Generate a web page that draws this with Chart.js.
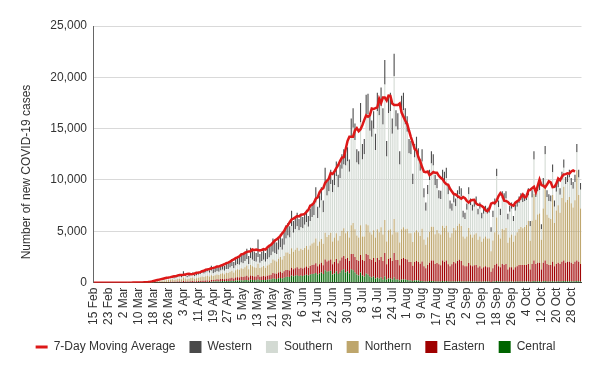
<!DOCTYPE html>
<html><head><meta charset="utf-8">
<script src="https://cdn.jsdelivr.net/npm/chart.js@4.4.1/dist/chart.umd.min.js"></script>
<style>html,body{margin:0;padding:0;background:#fff;}#wrap{width:600px;height:372px;}</style>
</head><body><div id="wrap"><canvas id="c" width="600" height="372"></canvas></div>
<script>
const yTitle = 'Number of new COVID-19 cases';
const tickLabels = ['15 Feb','23 Feb','2 Mar','10 Mar','18 Mar','26 Mar','3 Apr','11 Apr','19 Apr','27 Apr','5 May','13 May','21 May','29 May','6 Jun','14 Jun','22 Jun','30 Jun','8 Jul','16 Jul','24 Jul','1 Aug','9 Aug','17 Aug','25 Aug','2 Sep','10 Sep','18 Sep','26 Sep','4 Oct','12 Oct','20 Oct','28 Oct'];
const monthNames = ['Jan','Feb','Mar','Apr','May','Jun','Jul','Aug','Sep','Oct','Nov','Dec'];

const central = [
0,0,0,0,0,0,0,0,
0,0,0,0,0,0,0,0,
0,0,0,0,0,0,0,0,
0,0,1,1,2,3,4,5,
8,10,12,15,18,20,22,24,
25,30,32,26,30,35,40,32,
50,40,35,40,45,50,40,45,
55,60,70,65,75,80,70,90,
100,115,130,120,140,150,130,160,
150,170,190,160,200,210,200,230,
220,250,270,210,280,260,250,240,
300,230,250,270,240,280,300,330,
400,380,360,420,450,400,480,550,
580,560,700,620,680,720,650,700,
650,720,780,690,800,850,870,950,
800,900,1000,850,1200,1050,1100,1150,
800,900,1100,850,1000,1200,1300,1000,
1100,900,1300,1200,1000,800,700,1000,
700,600,900,800,600,500,600,400,
500,400,500,300,600,300,400,400,
300,500,300,300,200,300,300,300,
250,200,200,150,200,200,200,150,
150,100,100,120,150,150,150,120,
120,100,100,150,120,150,100,100,
100,120,100,120,130,120,100,100,
100,120,100,100,100,120,80,100,
80,100,100,100,100,60,100,120,
150,100,100,120,120,120,80,100,
100,80,100,100,120,120,110,110,
110,120,80,120,150,120,130,130,
80,130,150,120,120,110,140,100,
120,130,120,140,150,130,140,140,
130,120,130,160,140,120];

const eastern = [
0,0,0,0,0,0,0,0,
0,0,0,0,0,0,0,0,
0,0,0,0,0,0,0,1,
1,1,2,3,4,6,8,10,
16,20,25,30,35,40,43,47,
50,58,64,52,61,70,76,64,
100,80,65,75,90,100,80,85,
100,110,125,115,130,140,125,160,
155,175,190,180,205,215,200,230,
230,250,280,240,290,310,300,340,
320,360,400,310,410,380,360,350,
450,340,360,380,350,400,420,450,
550,520,500,560,600,550,620,680,
650,620,760,680,720,780,700,740,
720,760,800,730,820,860,880,950,
800,900,950,850,1050,1000,1050,1100,
1000,1100,1200,1050,1150,1250,1300,1300,
1300,1200,1500,1600,1500,1400,1400,1700,
1500,1500,1900,1900,1700,1700,1800,1600,
1900,1800,2000,1800,2300,1500,1900,2000,
1800,2400,1900,1900,1500,2000,2100,2000,
2000,1800,1800,1500,1800,1900,1800,1700,
1900,1500,1300,1600,1800,2000,2000,1700,
1800,1700,1600,2000,1900,2000,1700,1500,
1700,1900,1800,2000,2100,2000,1600,1500,
1500,1800,1600,1500,1600,1600,1400,1500,
1300,1400,1500,1400,1400,1000,1300,1600,
1700,1500,1400,1700,1600,1700,1200,1400,
1400,1200,1400,1500,1600,1600,1600,1600,
1600,1700,1200,1700,2000,1700,1800,1800,
1200,1800,2000,1700,1600,1600,1900,1500,
1700,1800,1700,1900,2000,1800,1900,1900,
1800,1700,1900,2000,1900,1700];

const northern = [
0,0,0,0,0,0,0,0,
0,0,0,0,0,0,0,0,
0,0,1,0,1,2,1,2,
3,5,7,10,14,20,27,35,
56,70,88,105,122,136,150,165,
175,200,225,180,215,245,265,225,
350,290,230,270,320,340,270,300,
320,350,400,370,410,450,400,480,
390,435,480,450,510,540,495,570,
570,630,690,600,720,780,750,840,
810,900,990,780,1020,960,900,870,
1100,850,900,960,870,990,1050,1140,
1300,1250,1200,1350,1450,1300,1500,1700,
1700,1600,1900,1700,1800,1900,1750,1850,
1800,1900,2000,1800,2000,2100,2150,2400,
2000,2200,2300,2100,2600,2400,2500,2600,
2200,2400,2500,2200,2400,2600,2700,2500,
2600,2300,2800,3000,2700,2400,2300,2900,
2300,2400,2900,2900,2600,2500,2700,2400,
2800,2700,2900,2600,3200,2200,2800,2800,
2600,3300,2700,2700,2200,2900,3000,2900,
3000,2800,2800,2300,2900,3000,2900,2700,
3200,2600,2300,2700,3000,3300,3300,2900,
3200,3000,3000,3400,3300,3400,3100,2800,
3000,3300,3200,3400,3500,3400,2800,2700,
2900,3400,3000,2800,3000,3100,2700,2900,
2600,2800,2900,2800,2800,2000,2700,3200,
4500,3100,2800,3400,3400,3500,2600,2900,
3200,2700,3100,3300,3500,3700,3600,3700,
3900,4200,2800,4200,6500,4300,4700,4800,
2900,5300,7500,4800,4600,4500,6500,4200,
5200,5600,5000,6200,7200,5900,6000,6300,
5800,5500,6000,8800,6500,5400];

const southern = [
0,0,0,0,0,0,0,0,
0,0,0,0,0,0,0,0,
0,0,0,0,1,1,1,1,
3,4,5,8,11,16,22,30,
48,60,75,90,105,116,129,140,
150,176,191,158,182,210,227,191,
250,240,190,225,265,290,230,260,
285,320,365,330,385,410,365,420,
265,290,320,300,335,355,330,370,
380,420,450,400,470,520,500,550,
540,590,650,520,670,640,590,570,
650,530,590,630,570,640,680,740,
750,750,740,870,950,950,1100,1370,
1670,1620,2140,1850,2000,2100,2000,2110,
2130,2270,2320,2230,2380,2590,2700,3500,
2700,3300,3750,3050,4750,4050,4250,4750,
4800,5100,5600,5200,5650,6050,6200,6600,
6800,6400,8600,9300,8700,7100,7100,10000,
7500,8000,10700,10800,9900,9500,9900,8500,
11500,11400,11800,10700,13200,8300,11400,11500,
9800,13900,10300,10000,7600,11300,11400,10200,
9450,7800,7700,5650,7300,7800,7000,6350,
6550,4100,3300,4180,5050,6150,5950,4780,
4080,3400,3450,4450,4480,4650,3700,2800,
2200,2480,2350,2680,2870,2880,1850,1900,
2600,3280,2850,2600,2700,2930,2470,2700,
2270,2400,2400,2400,2500,1890,2300,2630,
4050,2650,2300,2980,2930,2880,2270,2500,
2500,2020,2400,2500,2530,2630,2540,2540,
2440,2480,1420,2280,3350,2230,2270,2270,
1020,2270,2850,1730,1630,1690,2210,1600,
1830,1770,1730,1810,1850,1770,1760,1910,
1770,1830,1770,1740,1710,1830];

const western = [
0,0,0,0,0,0,0,0,
0,0,0,0,0,0,0,0,
0,0,0,0,0,0,0,1,
1,2,3,4,7,10,14,20,
32,40,50,60,70,78,86,94,
100,116,128,104,122,140,152,128,
350,170,130,150,180,200,160,170,
190,210,240,220,250,270,240,500,
390,435,480,450,510,540,495,570,
570,630,690,600,720,780,750,840,
810,900,990,780,1020,960,900,870,
1700,850,900,960,870,990,1050,1140,
1300,1200,1100,1200,1250,1100,1200,1300,
1200,1100,1500,1150,1200,1300,1100,1200,
1100,1150,1200,1050,1200,1300,1300,1500,
1100,1200,1300,1150,1600,1300,1300,1400,
1200,1300,1400,1200,1300,1400,1500,1400,
1400,1200,1800,1900,1600,1300,1300,1900,
1500,1500,1900,2000,1700,1600,1700,1600,
1800,1700,1800,1600,2400,1500,1700,1800,
1500,2200,1600,1600,1300,1700,1700,1600,
1500,1400,1300,1000,1300,1300,1200,1100,
1200,900,800,900,1000,1200,1100,1000,
900,800,800,1000,1000,1000,900,800,
700,800,750,800,800,800,650,600,
600,700,650,600,600,650,550,600,
550,600,600,600,600,450,600,650,
700,650,600,700,650,700,550,600,
600,500,600,600,650,650,650,650,
650,700,500,700,800,650,700,700,
500,700,800,650,650,600,750,600,
650,700,650,750,800,700,700,750,
700,650,700,800,750,650];

const movingAvg = [
0,0,0,0,0,0,0,0,
0,0,0,0,0,0,0,0,
0,0,0,1,2,3,5,7,
11,16,23,33,46,67,93,125,
163,205,250,297,341,384,431,480,
504,536,574,616,636,710,736,754,
776,804,836,856,821,840,897,960,
989,1027,1109,1157,1257,1293,1329,1400,
1436,1486,1571,1571,1657,1721,1793,1907,
1950,2036,2171,2257,2386,2471,2571,2757,
2786,2900,3000,3029,3057,3229,3157,3214,
3186,3143,3186,3271,3214,3429,3586,3686,
3900,4100,4214,4371,4557,4800,5029,5400,
5586,5886,6157,6243,6357,6486,6457,6614,
6629,6686,6900,7086,7500,7586,7786,8186,
8300,8800,9071,9200,9714,9929,10143,10686,
10586,10829,11157,11443,11843,12186,12214,13000,
13786,14214,14214,14214,14829,15043,14757,14943,
15357,15857,16286,16171,16314,16957,16914,17000,
17071,17914,17500,18029,18029,17743,18214,18186,
17443,17300,17300,17300,17443,16571,16171,15786,
15471,14800,14186,13629,13029,12886,12229,11829,
11257,10800,10757,10829,10471,10600,10771,10693,
10693,10407,10221,10079,9779,9593,9543,9143,
8886,8629,8586,8443,8314,8186,8343,8229,
7971,7800,8000,8057,8071,7714,7586,7571,
7471,7329,7071,6957,7157,7700,7771,7757,
7971,8443,8714,8500,7986,7957,7857,7671,
7571,7500,7786,7929,8043,8357,8586,8300,
8386,8971,9043,9186,9329,8829,9429,10043,
9500,9443,9286,9543,9871,9771,9300,9329,
9643,10143,9971,10329,10543,10571,10657,10614,
10829,10929,10814,null,null,null];

const categories = [];
for (let i = 0; i < central.length; i++) {
  const d = new Date(2020, 1, 15 + i);
  categories.push(d.getDate() + ' ' + monthNames[d.getMonth()]);
}

const FONT = '"Liberation Sans", Arial, Helvetica, sans-serif';
Chart.defaults.font.family = FONT;
Chart.defaults.font.size = 12;
Chart.defaults.color = '#333';

const yTitlePlugin = {
  id: 'yTitlePlugin',
  afterLayout(chart) {
    if (chart.legend) { chart.legend.top -= 5; chart.legend.bottom -= 5; }
  },
  afterDraw(chart) {
    const ctx = chart.ctx;
    ctx.save();
    ctx.translate(27, 172);
    ctx.rotate(-Math.PI / 2);
    ctx.font = '12px ' + FONT;
    ctx.fillStyle = '#333';
    ctx.textAlign = 'center';
    ctx.textBaseline = 'middle';
    ctx.fillText(yTitle, 0, 0);
    ctx.restore();
  }
};

new Chart(document.getElementById('c'), {
  type: 'bar',
  data: {
    labels: categories,
    datasets: [
      {type: 'line', label: '7-Day Moving Average', data: movingAvg, borderColor: '#dd1818', backgroundColor: '#dd1818', borderWidth: 2.5, pointRadius: 0, fill: false, tension: 0, order: 0, stack: 'ma'},
      {label: 'Western', data: western, backgroundColor: '#4a4a4a', order: 5, stack: 'cases'},
      {label: 'Southern', data: southern, backgroundColor: '#d3dad3', order: 4, stack: 'cases'},
      {label: 'Northern', data: northern, backgroundColor: '#bea66c', order: 3, stack: 'cases'},
      {label: 'Eastern', data: eastern, backgroundColor: '#a00000', order: 2, stack: 'cases'},
      {label: 'Central', data: central, backgroundColor: '#006400', order: 1, stack: 'cases'}
    ]
  },
  options: {
    responsive: false,
    animation: false,
    devicePixelRatio: 1,
    datasets: {bar: {categoryPercentage: 0.65, barPercentage: 0.9}},
    layout: {padding: {left: 0, right: 9, top: 26, bottom: 4}},
    plugins: {
      tooltip: {enabled: false},
      legend: {
        position: 'bottom',
        maxHeight: 46,
        labels: {
          usePointStyle: true,
          boxHeight: 12,
          boxWidth: 12,
          pointStyleWidth: 12,
          padding: 14,
          color: '#333',
          font: {size: 12},
          sort: (a, b) => a.datasetIndex - b.datasetIndex,
          generateLabels(chart) {
            return chart.data.datasets.map((ds, i) => {
              const isLine = ds.type === 'line';
              const col = isLine ? ds.borderColor : ds.backgroundColor;
              return {text: ds.label, datasetIndex: i, fillStyle: col, strokeStyle: col,
                lineWidth: isLine ? 3 : 0, pointStyle: isLine ? 'line' : 'rect', hidden: false, fontColor: '#333'};
            });
          }
        }
      }
    },
    scales: {
      x: {
        stacked: true,
        grid: {display: false, drawTicks: false},
        border: {display: true, color: '#444', width: 1},
        ticks: {
          autoSkip: false, maxRotation: 90, minRotation: 90, padding: 5, color: '#333', font: {size: 12},
          callback: (v, i) => (i % 8 === 0 ? tickLabels[i / 8] : '')
        }
      },
      y: {
        stacked: true, min: 0, max: 25000,
        afterFit: (s) => { s.width = 93; },
        ticks: {stepSize: 5000, padding: 6, color: '#333', font: {size: 12}},
        grid: {color: '#d9d9d9', drawTicks: false, lineWidth: 1},
        border: {display: true, color: '#666', width: 1}
      },
      yR: {
        position: 'right',
        afterFit: (s) => { s.width = 9; },
        grid: {display: false, drawTicks: false},
        border: {display: false},
        ticks: {display: false}
      }
    }
  },
  plugins: [yTitlePlugin]
});
</script>
</body></html>
